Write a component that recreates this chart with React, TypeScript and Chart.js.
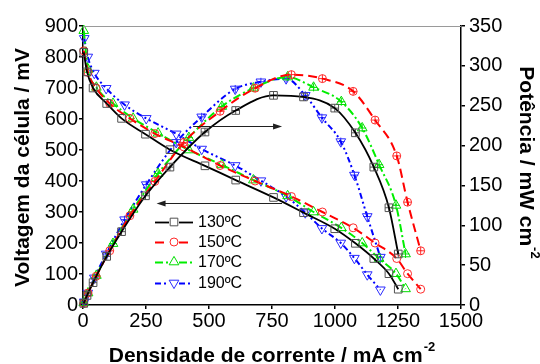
import React, { useEffect, useRef } from 'react';
import { Chart, registerables } from 'chart.js';

Chart.register(...registerables);

// ---- data ----
const seriesLabels = ['130ºC', '150ºC', '170ºC', '190ºC'];

const current130 = [3, 16, 40, 94, 153, 248, 345, 484, 606, 756, 875, 999, 1081, 1154, 1214, 1251];
const voltage130 = [815, 752, 700, 650, 602, 551, 501, 449, 403, 347, 298, 246, 199, 150, 101, 51];
const power130 = [2, 12, 28, 61, 92, 137, 173, 217, 244, 263, 261, 247, 216, 173, 122, 64];

const current150 = [3, 20, 52, 106, 186, 285, 400, 544, 683, 827, 950, 1072, 1159, 1245, 1288, 1340];
const voltage150 = [820, 750, 700, 650, 602, 553, 510, 450, 400, 350, 300, 249, 200, 150, 101, 51];
const power150 = [2, 15, 36, 68, 112, 155, 204, 243, 272, 289, 284, 268, 232, 187, 129, 68];

const current170 = [3, 20, 53, 119, 199, 298, 420, 551, 676, 812, 915, 1025, 1108, 1175, 1242, 1280];
const voltage170 = [885, 760, 702, 650, 602, 554, 500, 452, 403, 352, 300, 249, 200, 150, 101, 52];
const power170 = [3, 15, 37, 77, 120, 165, 210, 249, 272, 286, 273, 255, 222, 176, 125, 64];

const current190 = [5, 19, 45, 92, 165, 251, 370, 471, 604, 706, 806, 882, 948, 1023, 1077, 1128, 1180];
const voltage190 = [860, 800, 748, 699, 646, 602, 552, 503, 450, 401, 350, 298, 247, 200, 151, 98, 49];
const power190 = [4, 15, 34, 64, 107, 151, 204, 236, 271, 280, 284, 263, 235, 205, 163, 111, 60];

const xTickValues = [0, 250, 500, 750, 1000, 1250, 1500];
const voltageTickValues = [0, 100, 200, 300, 400, 500, 600, 700, 800, 900];
const powerTickValues = [0, 50, 100, 150, 200, 250, 300, 350];

// arrows: [x from, x to, voltage level]
const arrowStartX = [437, 790];
const arrowEndX = [790, 292];
const arrowLevelV = [577, 328];

const xTitle = 'Densidade de corrente / mA cm';
const yTitle = 'Voltagem da célula / mV';
const y1Title = 'Potência / mW cm';
const titleSup = '-2';

// ---- styles ----
const FONT = '"Liberation Sans", Arial, Helvetica, sans-serif';

type Sty = {
  color: string; marker: string; shape: string; rotation: number;
  dash: number[]; width: number; radius: number; cross: number;
};
const styles: Sty[] = [
  { color: '#000000', marker: '#505050', shape: 'rect', rotation: 0, dash: [], width: 1.8, radius: 5.4, cross: 3.8 },
  { color: '#ff0000', marker: '#ff2a2a', shape: 'circle', rotation: 0, dash: [9, 5], width: 2, radius: 4, cross: 4 },
  { color: '#00ee00', marker: '#00dd00', shape: 'triangle', rotation: 0, dash: [8, 3, 2, 3], width: 2, radius: 5.6, cross: 4 },
  { color: '#0000ff', marker: '#2a2aff', shape: 'triangle', rotation: 180, dash: [6, 3, 2, 3, 2, 3], width: 2, radius: 5.6, cross: 4 },
];

const currents = [current130, current150, current170, current190];
const voltages = [voltage130, voltage150, voltage170, voltage190];
const powers = [power130, power150, power170, power190];

function buildDatasets() {
  const ds: any[] = [];
  currents.forEach((xs, i) => {
    const s = styles[i];
    const base = {
      borderColor: s.color,
      borderWidth: s.width,
      borderDash: s.dash,
      pointStyle: s.shape,
      pointRotation: s.rotation,
      pointRadius: s.radius,
      pointBorderColor: s.marker,
      pointBackgroundColor: 'rgba(0,0,0,0)',
      pointBorderWidth: 1,
      pointHoverRadius: s.radius,
      cubicInterpolationMode: 'monotone',
      fill: false,
      clip: 12,
    };
    ds.push({ ...base, label: seriesLabels[i] + ' V', yAxisID: 'y', data: xs.map((x, k) => ({ x, y: voltages[i][k] })) });
    ds.push({ ...base, label: seriesLabels[i] + ' P', yAxisID: 'y1', data: xs.map((x, k) => ({ x, y: powers[i][k] })) });
    ds.push({
      label: seriesLabels[i] + ' P+', yAxisID: 'y1', showLine: false,
      pointStyle: 'cross', pointRadius: s.cross, pointHoverRadius: s.cross,
      pointBorderColor: s.marker, pointBorderWidth: 1, borderColor: s.marker,
      clip: 12,
      data: xs.map((x, k) => ({ x, y: powers[i][k] })),
    });
  });
  return ds;
}

function drawMarker(ctx: CanvasRenderingContext2D, s: Sty, x: number, y: number) {
  ctx.save();
  ctx.setLineDash([]);
  ctx.strokeStyle = s.marker;
  ctx.fillStyle = '#ffffff';
  ctx.lineWidth = 1;
  ctx.beginPath();
  if (s.shape === 'rect') {
    const h = s.radius * Math.SQRT1_2;
    ctx.rect(x - h, y - h, 2 * h, 2 * h);
  } else if (s.shape === 'circle') {
    ctx.arc(x, y, s.radius, 0, Math.PI * 2);
  } else {
    const r = s.radius;
    const dir = s.rotation === 180 ? -1 : 1;
    ctx.moveTo(x, y - dir * r);
    ctx.lineTo(x + r * 0.866, y + dir * r * 0.5);
    ctx.lineTo(x - r * 0.866, y + dir * r * 0.5);
    ctx.closePath();
  }
  ctx.fill();
  ctx.stroke();
  ctx.restore();
}

function drawTitleWithSup(ctx: CanvasRenderingContext2D, main: string, cx: number, baseline: number) {
  ctx.font = `bold 21px ${FONT}`;
  const w1 = ctx.measureText(main).width;
  ctx.font = `bold 13px ${FONT}`;
  const w2 = ctx.measureText(titleSup).width;
  const start = cx - (w1 + w2 + 1) / 2;
  ctx.textAlign = 'left';
  ctx.textBaseline = 'alphabetic';
  ctx.font = `bold 21px ${FONT}`;
  ctx.fillText(main, start, baseline);
  ctx.font = `bold 13px ${FONT}`;
  ctx.fillText(titleSup, start + w1 + 1, baseline - 11);
}

const overlayPlugin = {
  id: 'overlay',
  afterDraw(chart: any) {
    const { ctx, chartArea: a, scales } = chart;
    const xs = scales.x;
    const ys = scales.y;
    ctx.save();
    // top frame line
    ctx.strokeStyle = '#9a9a9a';
    ctx.lineWidth = 1;
    ctx.setLineDash([]);
    ctx.beginPath();
    ctx.moveTo(a.left, a.top + 0.5);
    ctx.lineTo(a.right, a.top + 0.5);
    ctx.stroke();

    // arrows
    ctx.strokeStyle = '#202020';
    ctx.fillStyle = '#202020';
    arrowStartX.forEach((sx, i) => {
      const x0 = xs.getPixelForValue(sx);
      const x1 = xs.getPixelForValue(arrowEndX[i]);
      const yy = Math.round(ys.getPixelForValue(arrowLevelV[i])) + 0.5;
      const dir = x1 > x0 ? 1 : -1;
      ctx.lineWidth = 1;
      ctx.beginPath();
      ctx.moveTo(x0, yy);
      ctx.lineTo(x1 - dir * 8, yy);
      ctx.stroke();
      ctx.beginPath();
      ctx.moveTo(x1, yy);
      ctx.lineTo(x1 - dir * 9, yy - 3);
      ctx.lineTo(x1 - dir * 9, yy + 3);
      ctx.closePath();
      ctx.fill();
    });

    // legend
    const legX0 = 155, legX1 = 193, legMid = 174, legText = 198;
    const legY = [222, 242, 262, 283];
    styles.forEach((s, i) => {
      const y = legY[i] + 0.5;
      ctx.strokeStyle = s.color;
      ctx.lineWidth = s.width;
      ctx.setLineDash(s.dash);
      ctx.beginPath();
      ctx.moveTo(legX0, y);
      ctx.lineTo(legMid - 5, y);
      ctx.stroke();
      ctx.beginPath();
      ctx.moveTo(legMid + 5, y);
      ctx.lineTo(legX1, y);
      ctx.stroke();
      ctx.setLineDash([]);
      drawMarker(ctx, s, legMid, legY[i]);
      ctx.fillStyle = '#000';
      ctx.font = `16px ${FONT}`;
      ctx.textAlign = 'left';
      ctx.textBaseline = 'middle';
      ctx.fillText(seriesLabels[i], legText, legY[i] + 1);
    });

    // axis titles
    ctx.fillStyle = '#000';
    // bottom
    drawTitleWithSup(ctx, xTitle, (a.left + a.right) / 2, 362);
    // left
    ctx.save();
    ctx.translate(29, (a.top + a.bottom) / 2 + 2);
    ctx.rotate(-Math.PI / 2);
    ctx.font = `bold 21px ${FONT}`;
    ctx.textAlign = 'center';
    ctx.textBaseline = 'alphabetic';
    ctx.fillText(yTitle, 0, 0);
    ctx.restore();
    // right
    ctx.save();
    ctx.translate(520, (a.top + a.bottom) / 2 - 3);
    ctx.rotate(Math.PI / 2);
    drawTitleWithSup(ctx, y1Title, 0, 0);
    ctx.restore();

    ctx.restore();
  },
};

function axisCommon(values: number[]) {
  return {
    afterBuildTicks: (s: any) => {
      s.ticks = values.map((v) => ({ value: v }));
    },
    grid: {
      display: true,
      drawOnChartArea: false,
      drawTicks: true,
      tickLength: 4,
      color: '#000',
      lineWidth: 1.5,
    },
    border: { display: true, color: '#000', width: 1.5 },
  };
}

const plainLabel = (v: any) => String(v);

export default function App() {
  const ref = useRef<HTMLCanvasElement>(null);
  useEffect(() => {
    document.body.style.margin = '0';
    Chart.defaults.font.family = FONT;
    const chart = new Chart(ref.current as HTMLCanvasElement, {
      type: 'line',
      data: { datasets: buildDatasets() },
      options: {
        responsive: false,
        animation: false,
        devicePixelRatio: 1,
        layout: { padding: { top: 26, left: 0, right: 0, bottom: 0 } },
        plugins: { legend: { display: false }, tooltip: { enabled: false } },
        events: [],
        scales: {
          x: {
            type: 'linear',
            min: 0,
            max: 1500,
            ...axisCommon(xTickValues),
            afterFit: (s: any) => { s.height = 59; },
            ticks: { color: '#000', font: { size: 20, family: FONT }, padding: 0, maxRotation: 0, autoSkip: false, callback: plainLabel },
          },
          y: {
            type: 'linear',
            position: 'left',
            min: 0,
            max: 900,
            ...axisCommon(voltageTickValues),
            afterFit: (s: any) => { s.width = 83; },
            ticks: { color: '#000', font: { size: 20, family: FONT }, padding: 1, autoSkip: false, callback: plainLabel },
          },
          y1: {
            type: 'linear',
            position: 'right',
            min: 0,
            max: 350,
            ...axisCommon(powerTickValues),
            afterFit: (s: any) => { s.width = 79; },
            ticks: { color: '#000', font: { size: 20, family: FONT }, padding: 4, autoSkip: false, callback: plainLabel },
          },
        },
      } as any,
      plugins: [overlayPlugin],
    });
    return () => chart.destroy();
  }, []);
  return (
    <div style={{ position: 'absolute', left: 0, top: 0, width: 540, height: 364 }}>
      <canvas ref={ref} width={540} height={364} style={{ display: 'block' }} />
    </div>
  );
}
